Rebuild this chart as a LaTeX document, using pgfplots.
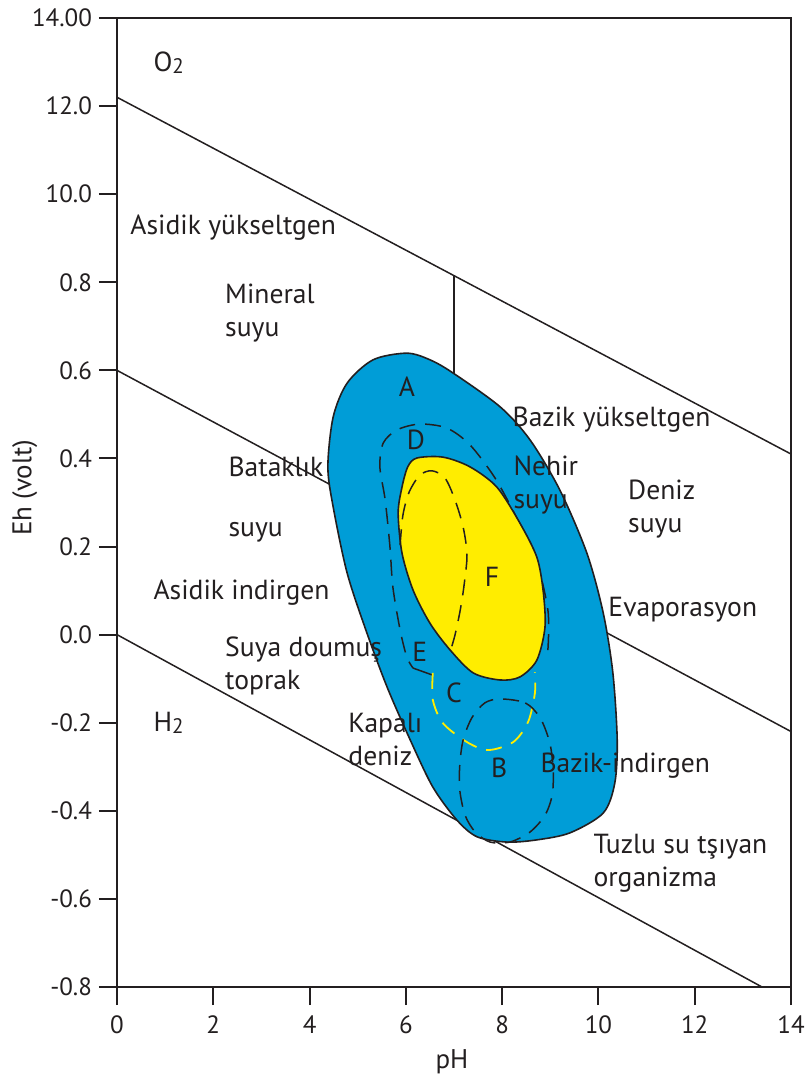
\documentclass[border=0pt]{standalone}
\usepackage{fontspec}
\setmainfont{PT Sans}
\usepackage{pgfplots}
\pgfplotsset{compat=1.18}
\definecolor{zone}{RGB}{0,157,215}
\definecolor{fzone}{RGB}{255,237,0}
\definecolor{ink}{RGB}{35,31,32}

\begin{document}
\begin{tikzpicture}[font=\fontsize{13.8}{16.5}\selectfont, text=ink,
  lbl/.style={anchor=west, inner sep=0pt, align=left}]
\begin{axis}[
  name=ax,
  width=337pt, height=484.5pt, scale only axis,
  xmin=0, xmax=14, ymin=-0.8, ymax=1.4,
  axis line style={line width=1pt, ink},
  xtick={0,2,4,6,8,10,12,14},
  xticklabels={\raisebox{-3pt}{0},2,4,6,8,10,12,14},
  ytick={-0.8,-0.6,-0.4,-0.2,0,0.2,0.4,0.6,0.8,1.0,1.2,1.4},
  yticklabels={-0.8,-0.6,-0.4,-0.2,0.0,0.2,0.4,0.6,0.8,10.0,12.0,14.00},
  tick align=outside, tick pos=left,
  major tick length=9pt,
  tick style={line width=1pt, ink},
  tick label style={font=\fontsize{12.5}{14}\selectfont},
  xticklabel style={yshift=-2pt},
  xlabel={pH}, ylabel={Eh (volt)},
  label style={font=\fontsize{13.5}{15}\selectfont},
  xlabel style={at={(axis description cs:0.497,-0.0774)}, anchor=center},
  ylabel style={at={(axis description cs:-0.137,0.515)}, anchor=center},
]
% stability boundaries
\addplot[line width=0.75pt, ink] coordinates {(0,1.22) (14,0.41)};
\addplot[line width=0.75pt, ink] coordinates {(0,0.60) (14,-0.22)};
\addplot[line width=0.75pt, ink] coordinates {(0,0) (14,-0.836)};
\addplot[line width=0.75pt, ink] coordinates {(7.0,0.815) (7.0,0.55)};

% outer field (blue)
\addplot[fill=zone, draw=ink, line width=0.8pt, smooth cycle] coordinates {
  (6.02,0.639) (6.50,0.624) (6.98,0.594) (7.96,0.517) (8.58,0.442)
  (9.20,0.328) (9.76,0.185) (10.10,0.049) (10.30,-0.087) (10.39,-0.239)
  (10.34,-0.337) (10.10,-0.405) (9.41,-0.450) (8.72,-0.466) (8.10,-0.471)
  (7.48,-0.459) (7.06,-0.421) (6.56,-0.346) (6.09,-0.239) (5.61,-0.119)
  (5.19,0.004) (4.78,0.140) (4.49,0.290) (4.38,0.381) (4.49,0.494)
  (4.78,0.571) (5.32,0.624)};

% D
\addplot[ink, line width=0.75pt, dash pattern=on 8pt off 5pt, smooth] coordinates {
  (8.95,-0.035) (8.95,0.056) (8.68,0.181) (8.27,0.272) (7.85,0.356)
  (7.33,0.431) (6.85,0.469) (6.29,0.478) (5.82,0.465) (5.53,0.435)
  (5.46,0.381) (5.57,0.306) (5.67,0.199) (5.73,0.108) (5.88,0.011)
  (6.02,-0.051) (6.15,-0.076)};
\addplot[ink, line width=0.75pt] coordinates {(6.15,-0.076) (6.56,-0.092)};

% F (yellow)
\addplot[fill=fzone, draw=ink, line width=0.8pt, smooth cycle] coordinates {
  (6.23,0.401) (6.77,0.403) (7.33,0.381) (7.89,0.335) (8.37,0.253)
  (8.72,0.176) (8.85,0.101) (8.89,0.017) (8.72,-0.058) (8.37,-0.096)
  (7.96,-0.103) (7.40,-0.087) (6.92,-0.035) (6.50,0.026) (6.15,0.101)
  (5.92,0.185) (5.84,0.276) (5.92,0.335) (6.04,0.381)};

% inner dashed loop
\addplot[ink, line width=0.75pt, dash pattern=on 8pt off 5pt, smooth] coordinates {
  (5.88,0.203) (5.94,0.272) (6.07,0.324) (6.29,0.362) (6.54,0.372)
  (6.81,0.356) (7.02,0.306) (7.19,0.244) (7.27,0.181) (7.21,0.113)
  (7.13,0.056) (7.02,-0.001) (6.92,-0.039)};

% C (yellow dashed)
\addplot[fzone, line width=0.9pt, dash pattern=on 8pt off 5pt, smooth] coordinates {
  (6.56,-0.087) (6.56,-0.148) (6.77,-0.201) (7.27,-0.244) (7.71,-0.262)
  (8.23,-0.244) (8.54,-0.198) (8.68,-0.133) (8.68,-0.085)};

% B
\addplot[ink, line width=0.75pt, dash pattern=on 8pt off 5pt, smooth cycle] coordinates {
  (7.96,-0.146) (8.48,-0.155) (8.79,-0.189) (8.99,-0.246) (9.06,-0.307)
  (9.04,-0.364) (8.89,-0.410) (8.58,-0.448) (8.16,-0.471) (7.75,-0.471)
  (7.44,-0.448) (7.23,-0.410) (7.12,-0.353) (7.12,-0.296) (7.19,-0.239)
  (7.37,-0.189) (7.64,-0.155)};

% labels
\node[lbl] at (axis cs:0.75,1.298) {O\raisebox{-1pt}{\fontsize{10.5}{12}\selectfont 2}};
\node[lbl] at (axis cs:0.27,0.925) {Asidik yükseltgen};
\node[lbl] at (axis cs:2.24,0.729) {Mineral\\suyu};
\node at (axis cs:6.02,0.562) {A};
\node at (axis cs:6.21,0.442) {D};
\node[lbl] at (axis cs:8.21,0.487) {Bazik yükseltgen};
\node[lbl] at (axis cs:8.23,0.339) {Nehir\\suyu};
\node[lbl] at (axis cs:10.61,0.286) {Deniz\\suyu};
\node[lbl] at (axis cs:2.31,0.381) {Bataklık};
\node[lbl] at (axis cs:2.31,0.233) {suyu};
\node at (axis cs:7.79,0.131) {F};
\node[lbl] at (axis cs:0.75,0.095) {Asidik indirgen};
\node[lbl] at (axis cs:10.20,0.056) {Evaporasyon};
\node[lbl] at (axis cs:2.24,-0.071) {Suya doumuş\\toprak};
\node at (axis cs:6.29,-0.039) {E};
\node at (axis cs:7.00,-0.133) {C};
\node[lbl] at (axis cs:0.75,-0.201) {H\raisebox{-1pt}{\fontsize{10.5}{12}\selectfont 2}};
\node[lbl] at (axis cs:4.80,-0.238) {Kapalı\\deniz};
\node at (axis cs:7.94,-0.303) {B};
\node[lbl] at (axis cs:8.79,-0.298) {Bazik-indirgen};
\node[lbl] at (axis cs:9.89,-0.519) {Tuzlu su tşıyan\\organizma};
\end{axis}
\pgfresetboundingbox
\path[use as bounding box] ([shift={(-58.5pt,-46pt)}]ax.south west) rectangle ([shift={(9.5pt,9pt)}]ax.north east);
\end{tikzpicture}
\end{document}
